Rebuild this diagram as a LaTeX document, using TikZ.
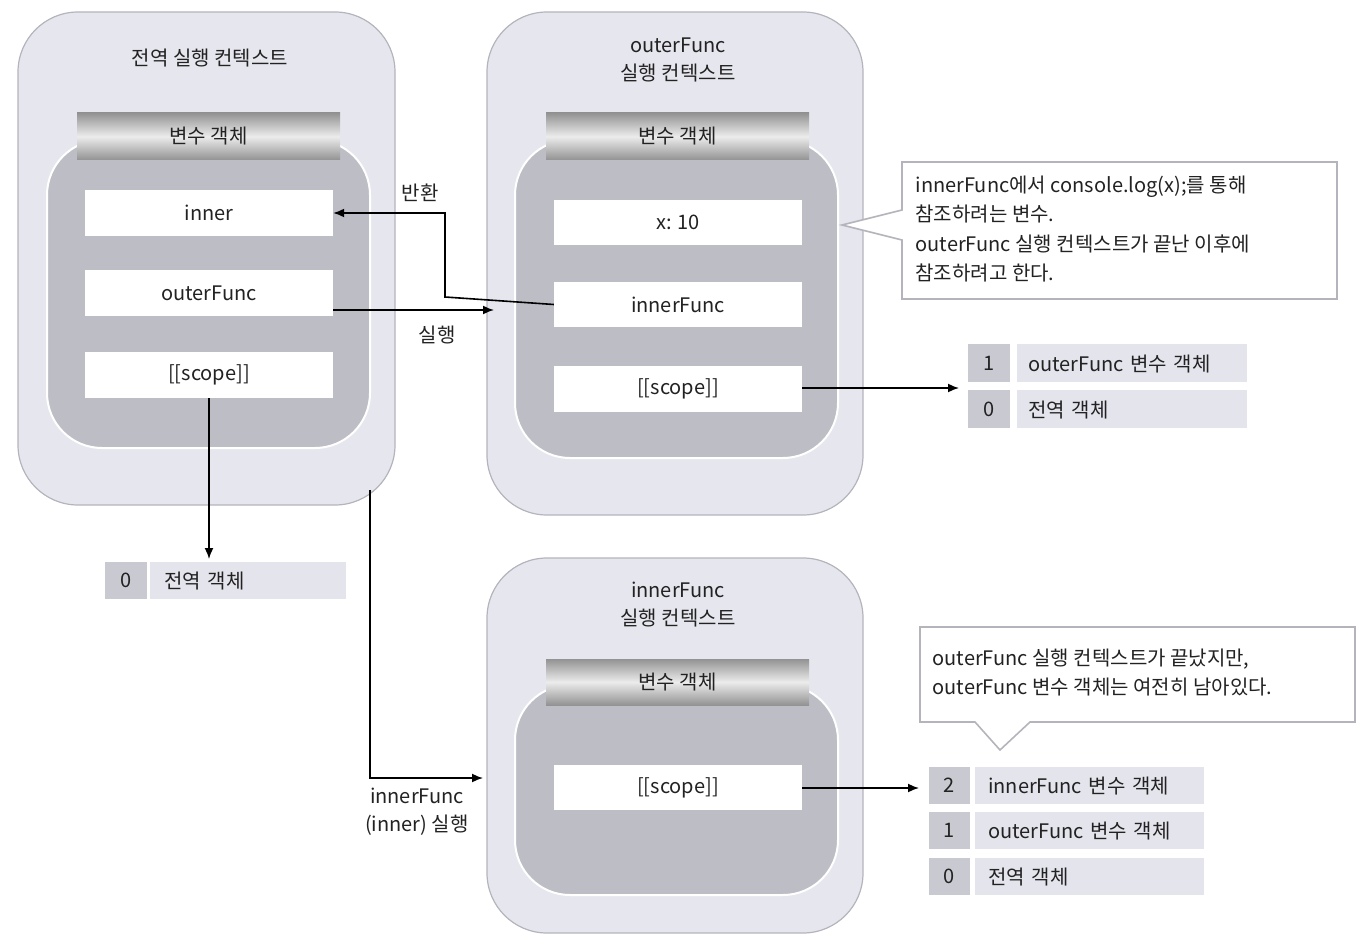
\documentclass[tikz,border=0pt]{standalone}
\usepackage{fontspec}
\setmainfont{Noto Sans CJK KR}
\usetikzlibrary{arrows.meta}
\definecolor{ctxbg}{HTML}{E6E6EE}
\definecolor{ctxln}{HTML}{B4B4BC}
\definecolor{innerbg}{HTML}{BDBDC6}
\definecolor{numbg}{HTML}{C9C9D1}
\definecolor{itembg}{HTML}{E4E4EC}
\definecolor{txt}{HTML}{222222}
\begin{document}
\begin{tikzpicture}[x=1pt,y=-1pt,
  every node/.style={text=txt,font=\fontsize{20}{25}\selectfont},
  ctx/.style={fill=ctxbg,draw=ctxln,line width=1.2pt,rounded corners=60pt},
  inarea/.style={fill=innerbg,draw=white,line width=2pt,rounded corners=55pt},
  hdr/.style={inner sep=0pt,top color=gray!85,bottom color=gray!85,middle color=white!85!gray},
  wbox/.style={fill=white,inner sep=0pt},
  numb/.style={fill=numbg,inner sep=0pt},
  itemb/.style={fill=itembg,inner sep=0pt,anchor=west,text width=205pt,align=left,text depth=0pt},
  arr/.style={-{Latex[length=11pt,width=9pt]},line width=1.6pt},
  call/.style={fill=white,draw=ctxln,line width=1.6pt}]
\useasboundingbox (0,0) rectangle (1368,944);
% context boxes
\draw[ctx] (18,12) rectangle (395,505);
\draw[ctx] (487,12) rectangle (863,515);
\draw[ctx] (487,558) rectangle (863,933);
\draw[inarea] (47,140) rectangle (370,448);
\draw[inarea] (515,140) rectangle (838,458);
\draw[inarea] (515,685) rectangle (838,895);
% titles
\node (t1) at (210,58) {전역 실행 컨텍스트};
\node[align=center,font=\fontsize{20}{28}\selectfont] (t2) at (678,60) {outerFunc\\실행 컨텍스트};
\node[align=center,font=\fontsize{20}{28}\selectfont] (t3) at (678,605) {innerFunc\\실행 컨텍스트};
% headers
\node[hdr,minimum width=263pt,minimum height=47pt] (h1) at (208.5,136.5) {변수 객체};
\node[hdr,minimum width=263pt,minimum height=47pt] (h2) at (677.5,136.5) {변수 객체};
\node[hdr,minimum width=263pt,minimum height=46pt] (h3) at (677.5,682) {변수 객체};
% white boxes
\node[wbox,minimum width=248pt,minimum height=46pt] (ginner) at (209,213) {inner};
\node[wbox,minimum width=248pt,minimum height=46pt] (gouter) at (209,293) {outerFunc};
\node[wbox,minimum width=248pt,minimum height=46pt] (gscope) at (209,375) {[[scope]]};
\node[wbox,minimum width=248pt,minimum height=45pt] (ox) at (678,222.5) {x: 10};
\node[wbox,minimum width=248pt,minimum height=45pt] (oinner) at (678,304.5) {innerFunc};
\node[wbox,minimum width=248pt,minimum height=46pt] (oscope) at (678,389) {[[scope]]};
\node[wbox,minimum width=248pt,minimum height=45pt] (iscope) at (678,787.5) {[[scope]]};
% lists
\node[numb,minimum width=42pt,minimum height=37pt] (g0) at (126,580.5) {0};
\node[itemb,minimum height=37pt,text width=196pt] (g0t) at (150,580.5) {\hspace*{14pt}전역 객체};
\node[numb,minimum width=42pt,minimum height=38pt] (o1) at (989,363) {1};
\node[itemb,minimum height=38pt,text width=230pt] (o1t) at (1017,363) {\hspace*{11pt}outerFunc 변수 객체};
\node[numb,minimum width=42pt,minimum height=38pt] (o0) at (989,409) {0};
\node[itemb,minimum height=38pt,text width=230pt] (o0t) at (1017,409) {\hspace*{11pt}전역 객체};
\node[numb,minimum width=41pt,minimum height=37pt] (i2) at (949.5,785.5) {2};
\node[itemb,minimum height=37pt,text width=229pt] (i2t) at (975,785.5) {\hspace*{13pt}innerFunc 변수 객체};
\node[numb,minimum width=41pt,minimum height=37pt] (i1) at (949.5,830.5) {1};
\node[itemb,minimum height=37pt,text width=229pt] (i1t) at (975,830.5) {\hspace*{13pt}outerFunc 변수 객체};
\node[numb,minimum width=41pt,minimum height=37pt] (i0) at (949.5,876.5) {0};
\node[itemb,minimum height=37pt,text width=229pt] (i0t) at (975,876.5) {\hspace*{13pt}전역 객체};
% arrows
\coordinate (r1) at (445,297);
\coordinate (r2) at (445,213);
\draw[arr] (oinner.west) -- (r1) -- (r2) -- (ginner.east);
\node (lret) at (420,193) {반환};
\coordinate (oin) at (494,310);
\draw[arr] (gouter.east|-oin) -- (oin);
\node (lrun) at (437,335) {실행};
\draw[arr] (gscope.south) -- (209,559);
\coordinate (d1) at (370,490);
\coordinate (d2) at (370,778);
\coordinate (d3) at (483,778);
\draw[arr] (d1) -- (d2) -- (d3);
\node[align=center,font=\fontsize{20}{28}\selectfont] (lin) at (417,812) {innerFunc\\(inner) 실행};
\coordinate (oend) at (959,388);
\draw[arr] (oscope.east|-oend) -- (oend);
\coordinate (iend) at (919,788);
\draw[arr] (iscope.east|-iend) -- (iend);
% callouts
\draw[call] (902,162) -- (1337,162) -- (1337,299) -- (902,299) -- (902,240) -- (842,225) -- (902,210) -- cycle;
\node[anchor=north west,align=left,font=\fontsize{20}{29.5}\selectfont] (c1) at (912,172) {innerFunc에서 console.log(x);를 통해\\참조하려는 변수.\\outerFunc 실행 컨텍스트가 끝난 이후에\\참조하려고 한다.};
\draw[call] (920,627) -- (1355,627) -- (1355,722) -- (1030,722) -- (1000,750) -- (975,722) -- (920,722) -- cycle;
\node[anchor=north west,align=left,font=\fontsize{20}{29.5}\selectfont] (c2) at (929,645) {outerFunc 실행 컨텍스트가 끝났지만,\\outerFunc 변수 객체는 여전히 남아있다.};
\end{tikzpicture}
\end{document}
